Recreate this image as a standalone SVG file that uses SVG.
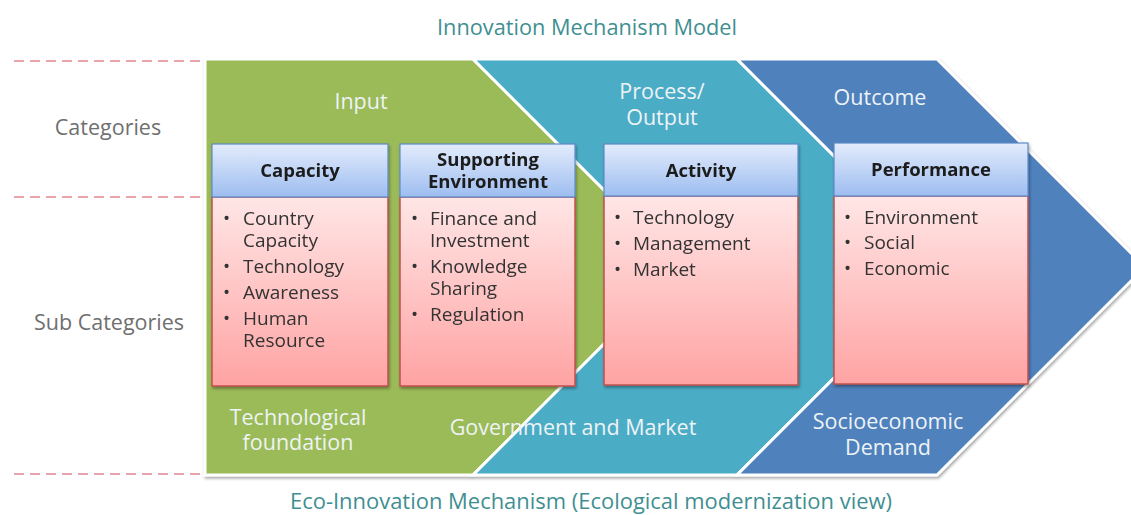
<svg xmlns="http://www.w3.org/2000/svg" width="1131" height="515" viewBox="0 0 1131 515">
  <defs>
    <linearGradient id="hdr" x1="0" y1="0" x2="0" y2="1">
      <stop offset="0" stop-color="#e3ecfc"/>
      <stop offset="1" stop-color="#9dbdf0"/>
    </linearGradient>
    <linearGradient id="body" x1="0" y1="0" x2="0" y2="1">
      <stop offset="0" stop-color="#ffe6e6"/>
      <stop offset="1" stop-color="#ffa3a3"/>
    </linearGradient>
    <filter id="shadow" x="-5%" y="-5%" width="110%" height="115%">
      <feGaussianBlur in="SourceAlpha" stdDeviation="1.5"/>
      <feOffset dx="1" dy="2" result="b"/>
      <feComponentTransfer><feFuncA type="linear" slope="0.35"/></feComponentTransfer>
      <feMerge><feMergeNode/><feMergeNode in="SourceGraphic"/></feMerge>
    </filter>
  </defs>
  <style>
    .dash { stroke: #e9a3aa; stroke-width: 2; stroke-dasharray: 10 6; fill: none; }
    .side { font-family: "Open Sans", "Noto Sans", sans-serif; font-size: 21.5px; fill: #6f6f6f; text-anchor: middle; }
    .title { font-family: "Open Sans", "Noto Sans", sans-serif; font-size: 21.5px; fill: #3f8f92; text-anchor: middle; }
    .band { stroke: #ffffff; stroke-width: 3; stroke-linejoin: miter; }
    .lbl { font-family: "Open Sans", "Noto Sans", sans-serif; font-size: 21.5px; fill: #eef3f6; text-anchor: middle; }
    .hbox { fill: url(#hdr); stroke: #5d8ac8; stroke-width: 1.2; }
    .bbox { fill: url(#body); stroke: #c0504d; stroke-width: 1.5; }
    .htxt { font-family: "Open Sans", "Noto Sans", sans-serif; font-size: 18.5px; font-weight: bold; fill: #1b1b1b; text-anchor: middle; }
    .item { font-family: "Open Sans", "Noto Sans", sans-serif; font-size: 19px; fill: #333333; }
  </style>

  <!-- guide lines for the row labels -->
  <g id="guides">
    <line class="dash" x1="14" y1="61" x2="203" y2="61"/>
    <line class="dash" x1="14" y1="197" x2="203" y2="197"/>
    <line class="dash" x1="14" y1="474" x2="203" y2="474"/>
  </g>

  <text class="title" x="587" y="35" textLength="300" lengthAdjust="spacingAndGlyphs">Innovation Mechanism Model</text>
  <text class="side" x="108" y="135">Categories</text>
  <text class="side" x="109" y="330">Sub Categories</text>
  <text class="title" x="591" y="509" textLength="602" lengthAdjust="spacingAndGlyphs">Eco-Innovation Mechanism (Ecological modernization view)</text>

  <!-- stage bands -->
  <g id="bands" filter="url(#shadow)">
    <path id="band-input" class="band" fill="#9bbb59" d="M205,59 L473,59 L681,267 L473,475 L205,475 Z"/>
    <path id="band-process" class="band" fill="#4bacc6" d="M473,59 L737,59 L945,267 L737,475 L473,475 L681,267 Z"/>
    <path id="band-outcome" class="band" fill="#4f81bd" d="M737,59 L937,59 L1145,267 L937,475 L737,475 L945,267 Z"/>
  </g>

  <g id="band-labels">
    <text class="lbl" x="361" y="109">Input</text>
    <text class="lbl" x="662" y="99">Process/</text>
    <text class="lbl" x="662" y="125">Output</text>
    <text class="lbl" x="880" y="105">Outcome</text>
    <text class="lbl" x="298" y="425">Technological</text>
    <text class="lbl" x="298" y="450">foundation</text>
    <text class="lbl" x="573" y="435">Government and Market</text>
    <text class="lbl" x="888" y="429">Socioeconomic</text>
    <text class="lbl" x="888" y="455">Demand</text>
  </g>

  <!-- category boxes -->
  <g id="capacity" filter="url(#shadow)">
    <rect class="bbox" x="212" y="197" width="176" height="189"/>
    <rect class="hbox" x="212" y="144" width="176" height="53"/>
    <text class="htxt" x="300" y="177">Capacity</text>
    <g class="item">
      <text x="223" y="225">•</text><text x="243" y="225">Country</text>
      <text x="243" y="247">Capacity</text>
      <text x="223" y="273">•</text><text x="243" y="273">Technology</text>
      <text x="223" y="299">•</text><text x="243" y="299">Awareness</text>
      <text x="223" y="325">•</text><text x="243" y="325">Human</text>
      <text x="243" y="347">Resource</text>
    </g>
  </g>

  <g id="supporting-environment" filter="url(#shadow)">
    <rect class="bbox" x="400" y="197" width="175" height="189"/>
    <rect class="hbox" x="400" y="144" width="175" height="53"/>
    <text class="htxt" x="488" y="166">Supporting</text>
    <text class="htxt" x="488" y="188">Environment</text>
    <g class="item">
      <text x="411" y="225">•</text><text x="430" y="225">Finance and</text>
      <text x="430" y="247">Investment</text>
      <text x="411" y="273">•</text><text x="430" y="273">Knowledge</text>
      <text x="430" y="295">Sharing</text>
      <text x="411" y="321">•</text><text x="430" y="321">Regulation</text>
    </g>
  </g>

  <g id="activity" filter="url(#shadow)">
    <rect class="bbox" x="604" y="196" width="194" height="189"/>
    <rect class="hbox" x="604" y="144" width="194" height="52"/>
    <text class="htxt" x="701" y="177">Activity</text>
    <g class="item">
      <text x="614" y="224">•</text><text x="633" y="224">Technology</text>
      <text x="614" y="250">•</text><text x="633" y="250">Management</text>
      <text x="614" y="276">•</text><text x="633" y="276">Market</text>
    </g>
  </g>

  <g id="performance" filter="url(#shadow)">
    <rect class="bbox" x="834" y="196" width="194" height="188"/>
    <rect class="hbox" x="834" y="143" width="194" height="53"/>
    <text class="htxt" x="931" y="176">Performance</text>
    <g class="item">
      <text x="844" y="224">•</text><text x="864" y="224">Environment</text>
      <text x="844" y="249">•</text><text x="864" y="249">Social</text>
      <text x="844" y="275">•</text><text x="864" y="275">Economic</text>
    </g>
  </g>
</svg>
